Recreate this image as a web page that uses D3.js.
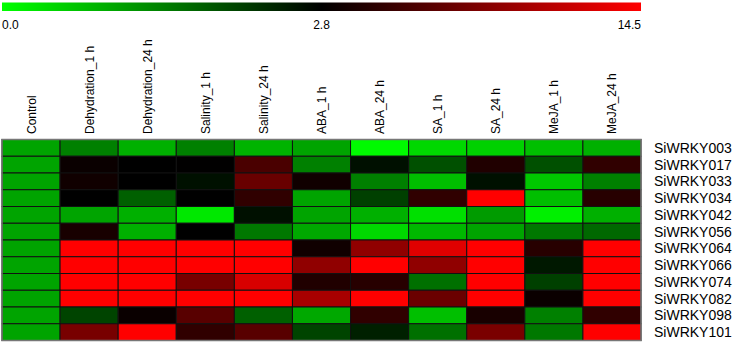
<!DOCTYPE html>
<html>
<head>
<meta charset="utf-8">
<script src="https://cdn.jsdelivr.net/npm/d3@7"></script>
<style>
  body { margin: 0; background: #fff; }
  svg { display: block; font-family: "Liberation Sans", Arial, sans-serif; }
</style>
</head>
<body>
<svg id="chart" width="737" height="343"></svg>
<script>
// conditions (columns) and genes (rows)
const conditions = ["Control", "Dehydration_1 h", "Dehydration_24 h", "Salinity_1 h", "Salinity_24 h",
  "ABA_1 h", "ABA_24 h", "SA_1 h", "SA_24 h", "MeJA_1 h", "MeJA_24 h"];
const genes = ["SiWRKY003", "SiWRKY017", "SiWRKY033", "SiWRKY034", "SiWRKY042", "SiWRKY056",
  "SiWRKY064", "SiWRKY066", "SiWRKY074", "SiWRKY082", "SiWRKY098", "SiWRKY101"];

// relative expression, one array per gene
const SiWRKY003 = [1.0, 1.39, 0.87, 1.39, 0.83, 1.0, 0.05, 0.43, 0.5, 0.7, 0.87];
const SiWRKY017 = [1.0, 3.26, 2.8, 2.85, 6.2, 1.39, 2.62, 1.92, 4.27, 1.92, 5.0];
const SiWRKY033 = [1.0, 3.53, 2.8, 2.62, 7.57, 3.53, 1.39, 0.7, 2.62, 0.6, 1.39];
const SiWRKY034 = [1.0, 2.8, 1.75, 2.8, 5.0, 1.0, 2.1, 5.0, 14.5, 0.7, 4.6];
const SiWRKY042 = [1.0, 1.0, 0.87, 0.25, 2.62, 1.0, 0.87, 0.34, 1.1, 0.16, 0.87];
const SiWRKY056 = [1.0, 3.9, 0.87, 2.8, 1.48, 0.95, 0.43, 0.78, 1.0, 1.48, 1.66];
const SiWRKY064 = [1.0, 14.5, 14.5, 14.5, 14.5, 3.53, 9.4, 13.07, 14.5, 4.6, 14.5];
const SiWRKY066 = [1.0, 14.5, 14.5, 14.5, 14.5, 9.4, 14.5, 9.4, 14.5, 2.54, 14.5];
const SiWRKY074 = [1.0, 14.5, 14.5, 8.3, 12.7, 4.27, 4.6, 1.57, 14.5, 2.1, 14.5];
const SiWRKY082 = [1.0, 14.5, 14.5, 14.5, 14.5, 10.5, 14.5, 7.66, 14.5, 3.26, 14.5];
const SiWRKY098 = [1.0, 2.05, 3.26, 6.84, 1.75, 0.95, 5.0, 0.7, 3.9, 1.39, 5.0];
const SiWRKY101 = [1.0, 8.3, 14.5, 5.0, 6.84, 2.05, 2.45, 1.57, 8.4, 1.48, 14.5];
const values = [SiWRKY003, SiWRKY017, SiWRKY033, SiWRKY034, SiWRKY042, SiWRKY056,
  SiWRKY064, SiWRKY066, SiWRKY074, SiWRKY082, SiWRKY098, SiWRKY101];

const legendTicks = [0.0, 2.8, 14.5];

const svg = d3.select("#chart");

// colour: green -> black -> red
const color = d3.scaleLinear()
  .domain(legendTicks)
  .range(["#00ff00", "#000000", "#ff0000"])
  .clamp(true);

const hmLeft = 2, hmRight = 641, hmTop = 139.5, hmBottom = 340.5;

// ---- colour bar on top
const legX = d3.scaleLinear().domain(legendTicks).range([hmLeft, (hmLeft + hmRight) / 2, hmRight]);
const grad = svg.append("defs").append("linearGradient")
  .attr("id", "legGrad")
  .attr("x1", "0%").attr("x2", "100%");
grad.selectAll("stop")
  .data(d3.range(0, 1.0001, 0.05))
  .join("stop")
  .attr("offset", d => (d * 100) + "%")
  .attr("stop-color", d => color(legX.invert(hmLeft + d * (hmRight - hmLeft))));

svg.append("rect")
  .attr("x", hmLeft).attr("y", 2.5)
  .attr("width", hmRight - hmLeft).attr("height", 8.5)
  .attr("fill", "url(#legGrad)");

svg.selectAll(".legLabel")
  .data(legendTicks)
  .join("text")
  .attr("class", "legLabel")
  .attr("x", d => legX(d))
  .attr("y", 28.5)
  .attr("text-anchor", (d, i) => i == 0 ? "start" : (i == legendTicks.length - 1 ? "end" : "middle"))
  .attr("font-size", 12)
  .attr("fill", "#000")
  .text(d => d.toFixed(1));

// ---- heatmap
const x = d3.scaleBand().domain(conditions).range([hmLeft, hmRight]);
const y = d3.scaleBand().domain(genes).range([hmTop, hmBottom]);

const cells = [];
genes.forEach((g, r) => {
  conditions.forEach((c, j) => cells.push({ gene: g, cond: c, v: values[r][j] }));
});

svg.append("g")
  .selectAll("rect")
  .data(cells)
  .join("rect")
  .attr("x", d => x(d.cond))
  .attr("y", d => y(d.gene))
  .attr("width", x.bandwidth())
  .attr("height", y.bandwidth())
  .attr("fill", d => color(d.v))
  .attr("stroke", "#111")
  .attr("stroke-width", 1);

svg.append("rect")
  .attr("x", hmLeft).attr("y", hmTop)
  .attr("width", hmRight - hmLeft).attr("height", hmBottom - hmTop)
  .attr("fill", "none")
  .attr("stroke", "#777")
  .attr("stroke-width", 1.5);

// column labels, rotated
svg.selectAll(".colLabel")
  .data(conditions)
  .join("text")
  .attr("class", "colLabel")
  .attr("transform", d => "translate(" + (x(d) + x.bandwidth() / 2 + 4.5) + ",134) rotate(-90)")
  .attr("font-size", 12)
  .attr("fill", "#000")
  .text(d => d);

// row labels
svg.selectAll(".rowLabel")
  .data(genes)
  .join("text")
  .attr("class", "rowLabel")
  .attr("x", 654)
  .attr("y", d => y(d) + y.bandwidth() / 2 + 5)
  .attr("font-size", 14)
  .attr("fill", "#000")
  .text(d => d);
</script>
</body>
</html>
